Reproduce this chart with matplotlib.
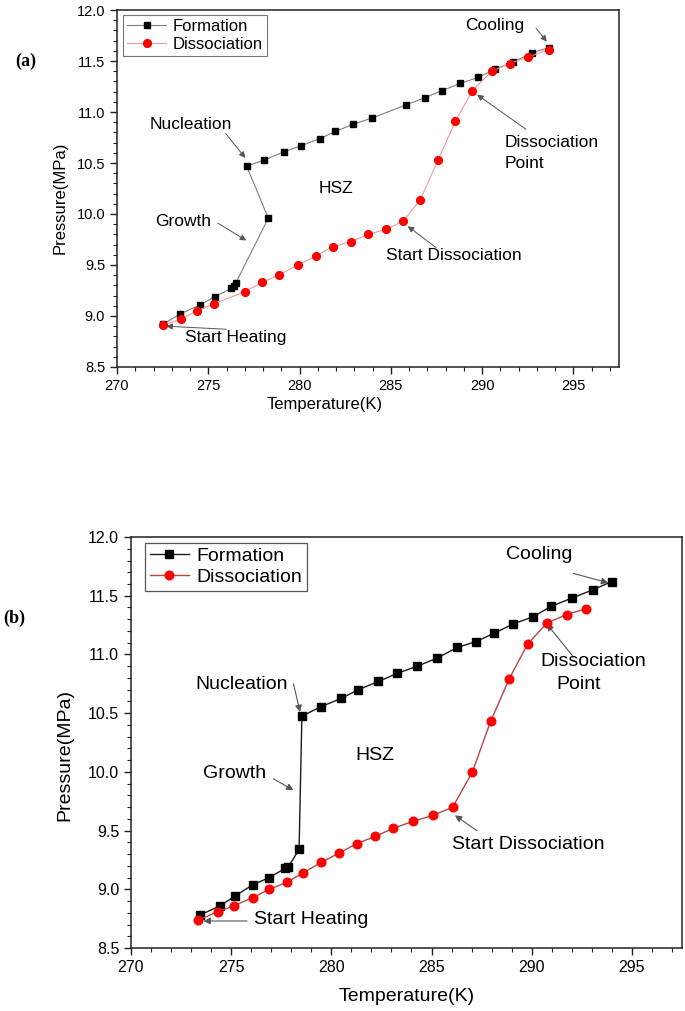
import matplotlib
matplotlib.use("Agg")
import matplotlib.pyplot as plt
from matplotlib.ticker import MultipleLocator, FormatStrFormatter

plt.rcParams['font.family'] = ['Liberation Sans', 'DejaVu Sans']

# ---------------- data: panel (a) ----------------
a_form_T = [272.52, 273.47, 274.56, 275.37, 276.26, 276.40, 276.50, 278.29, 277.10, 278.08,
            279.14, 280.10, 281.13, 281.97, 282.94, 283.96, 285.84, 286.86, 287.81, 288.80,
            289.80, 290.73, 291.70, 292.73, 293.65]
a_form_P = [8.92, 9.02, 9.11, 9.19, 9.27, 9.29, 9.32, 9.96, 10.47, 10.53,
            10.61, 10.67, 10.74, 10.81, 10.88, 10.94, 11.07, 11.14, 11.21, 11.28,
            11.34, 11.42, 11.49, 11.58, 11.63]
a_diss_T = [272.52, 273.50, 274.38, 275.31, 277.03, 277.94, 278.87, 279.91, 280.91, 281.82,
            282.83, 283.76, 284.74, 285.68, 286.62, 287.59, 288.54, 289.47, 290.53, 291.51,
            292.52, 293.65]
a_diss_P = [8.91, 8.97, 9.05, 9.12, 9.24, 9.33, 9.40, 9.50, 9.59, 9.68,
            9.73, 9.80, 9.85, 9.93, 10.14, 10.53, 10.91, 11.21, 11.40, 11.475,
            11.54, 11.61]

# ---------------- data: panel (b) ----------------
b_form_T = [273.43, 274.46, 275.17, 276.09, 276.91, 277.70, 277.85, 278.39, 278.53, 279.48,
            280.48, 281.35, 282.35, 283.30, 284.29, 285.29, 286.29, 287.22, 288.12, 289.08,
            290.05, 290.98, 292.00, 293.04, 293.99]
b_form_P = [8.78, 8.86, 8.94, 9.04, 9.10, 9.18, 9.19, 9.34, 10.475, 10.555,
            10.625, 10.70, 10.77, 10.84, 10.90, 10.97, 11.06, 11.11, 11.18, 11.26,
            11.32, 11.41, 11.48, 11.55, 11.62]
b_diss_T = [273.37, 274.35, 275.13, 276.09, 276.91, 277.78, 278.59, 279.50, 280.40, 281.27,
            282.18, 283.10, 284.09, 285.09, 286.06, 287.04, 287.95, 288.87, 289.80, 290.78,
            291.75, 292.71]
b_diss_P = [8.74, 8.81, 8.86, 8.93, 9.00, 9.06, 9.14, 9.23, 9.31, 9.39,
            9.45, 9.52, 9.58, 9.63, 9.70, 10.00, 10.43, 10.79, 11.09, 11.27,
            11.34, 11.39]

series_labels = ["Formation", "Dissociation"]
x_label = "Temperature(K)"
y_label = "Pressure(MPa)"

# annotation arrows: (arrow_tail_xy, arrow_tip_xy)
a_arrows = [((292.96, 11.82), (293.55, 11.69)),
            ((292.41, 10.83), (289.73, 11.17)),
            ((287.48, 9.67), (285.93, 9.88)),
            ((275.95, 10.79), (277.03, 10.55)),
            ((275.53, 9.91), (277.08, 9.74)),
            ((275.99, 8.87), (272.70, 8.90))]
# annotation texts: (text, x, y, ha)
a_texts = [("Cooling", 290.67, 11.85, "center"),
           ("Dissociation", 291.22, 10.70, "left"),
           ("Point", 291.22, 10.50, "left"),
           ("Start Dissociation", 284.75, 9.59, "left"),
           ("Nucleation", 274.02, 10.88, "center"),
           ("Growth", 273.65, 9.93, "center"),
           ("Start Heating", 273.71, 8.79, "left"),
           ("HSZ", 281.97, 10.25, "center")]

b_arrows = [((292.08, 11.69), (293.82, 11.61)),
            ((292.08, 10.98), (290.75, 11.26)),
            ((287.26, 9.50), (286.17, 9.63)),
            ((278.11, 10.75), (278.44, 10.51)),
            ((277.11, 9.94), (278.11, 9.845)),
            ((275.79, 8.73), (273.62, 8.73))]
b_texts = [("Cooling", 290.35, 11.85, "center"),
           ("Dissociation", 290.42, 10.94, "left"),
           ("Point", 291.22, 10.745, "left"),
           ("Start Dissociation", 286.01, 9.38, "left"),
           ("Nucleation", 275.52, 10.74, "center"),
           ("Growth", 275.18, 9.99, "center"),
           ("Start Heating", 276.15, 8.74, "left"),
           ("HSZ", 282.15, 10.14, "center")]

fig = plt.figure(figsize=(6.85, 10.11), dpi=100)
ax_a = fig.add_axes([0.1708, 0.6370, 0.7328, 0.3531])
ax_b = fig.add_axes([0.1912, 0.0623, 0.8044, 0.4065])


def style_axes(ax, fs_tick, fs_label, xlab_pos, ylab_pos):
    ax.set_xlim(270, 297.5)
    ax.set_ylim(8.5, 12.0)
    ax.xaxis.set_major_locator(MultipleLocator(5))
    ax.xaxis.set_minor_locator(MultipleLocator(1))
    ax.yaxis.set_major_locator(MultipleLocator(0.5))
    ax.yaxis.set_minor_locator(MultipleLocator(0.1))
    ax.yaxis.set_major_formatter(FormatStrFormatter('%.1f'))
    ax.tick_params(which='major', direction='out', length=5, width=1.0, labelsize=fs_tick,
                   top=False, right=False, color='#222222')
    ax.tick_params(which='minor', direction='out', length=3, width=0.8,
                   top=False, right=False, color='#222222')
    for s in ax.spines.values():
        s.set_color('#222222')
        s.set_linewidth(1.1)
    ax.set_xlabel(x_label, fontsize=fs_label)
    ax.set_ylabel(y_label, fontsize=fs_label)
    ax.xaxis.set_label_coords(*xlab_pos)
    ax.yaxis.set_label_coords(*ylab_pos)


def draw_notes(ax, arrows, texts, fs, lw, ms):
    for tail, tip in arrows:
        ax.annotate('', xy=tip, xytext=tail,
                    arrowprops=dict(arrowstyle='-|>', color='#555555', lw=lw,
                                    mutation_scale=ms, shrinkA=0, shrinkB=0))
    for txt, x, y, ha in texts:
        ax.text(x, y, txt, fontsize=fs, ha=ha, va='center')


# ---------- panel (a) ----------
ax = ax_a
ax.plot(a_form_T, a_form_P, '-', color='#7f7f7f', lw=0.8, marker='s', ms=4.6,
        mfc='black', mec='black', label=series_labels[0], zorder=3)
ax.plot(a_diss_T, a_diss_P, '-', color='#f29a9a', lw=0.8, marker='o', ms=5.6,
        mfc='#ff0000', mec='#ff0000', label=series_labels[1], zorder=4)
style_axes(ax, 10.5, 12, (0.414, -0.084), (-0.0976, 0.473))
leg = ax.legend(loc='upper left', bbox_to_anchor=(0.0125, 0.986), borderaxespad=0,
                fontsize=12, fancybox=False, edgecolor='#777777', framealpha=1,
                handlelength=2.3, handletextpad=0.4, borderpad=0.25, labelspacing=0.15)
leg.get_frame().set_linewidth(0.8)
draw_notes(ax, a_arrows, a_texts, 12.5, 0.7, 9)

# ---------- panel (b) ----------
ax = ax_b
ax.plot(b_form_T, b_form_P, '-', color='#1a1a1a', lw=1.0, marker='s', ms=5.6,
        mfc='black', mec='black', label=series_labels[0], zorder=3)
ax.plot(b_diss_T, b_diss_P, '-', color='#b84545', lw=1.0, marker='o', ms=6.2,
        mfc='#ff0000', mec='#ff0000', label=series_labels[1], zorder=4)
style_axes(ax, 11.5, 14, (0.5, -0.097), (-0.105, 0.47))
leg = ax.legend(loc='upper left', bbox_to_anchor=(0.0254, 0.986), borderaxespad=0,
                fontsize=14, fancybox=False, edgecolor='#555555', framealpha=1,
                handlelength=2.0, handletextpad=0.4, borderpad=0.25, labelspacing=0.15)
leg.get_frame().set_linewidth(0.9)
draw_notes(ax, b_arrows, b_texts, 14, 0.8, 10)

fig.text(0.038, 0.9397, "(a)", fontsize=13, fontweight='bold',
         family=['Liberation Serif', 'DejaVu Serif'], ha='center', va='center')
fig.text(0.021, 0.388, "(b)", fontsize=13, fontweight='bold',
         family=['Liberation Serif', 'DejaVu Serif'], ha='center', va='center')

fig.savefig("out.png", dpi=100)
